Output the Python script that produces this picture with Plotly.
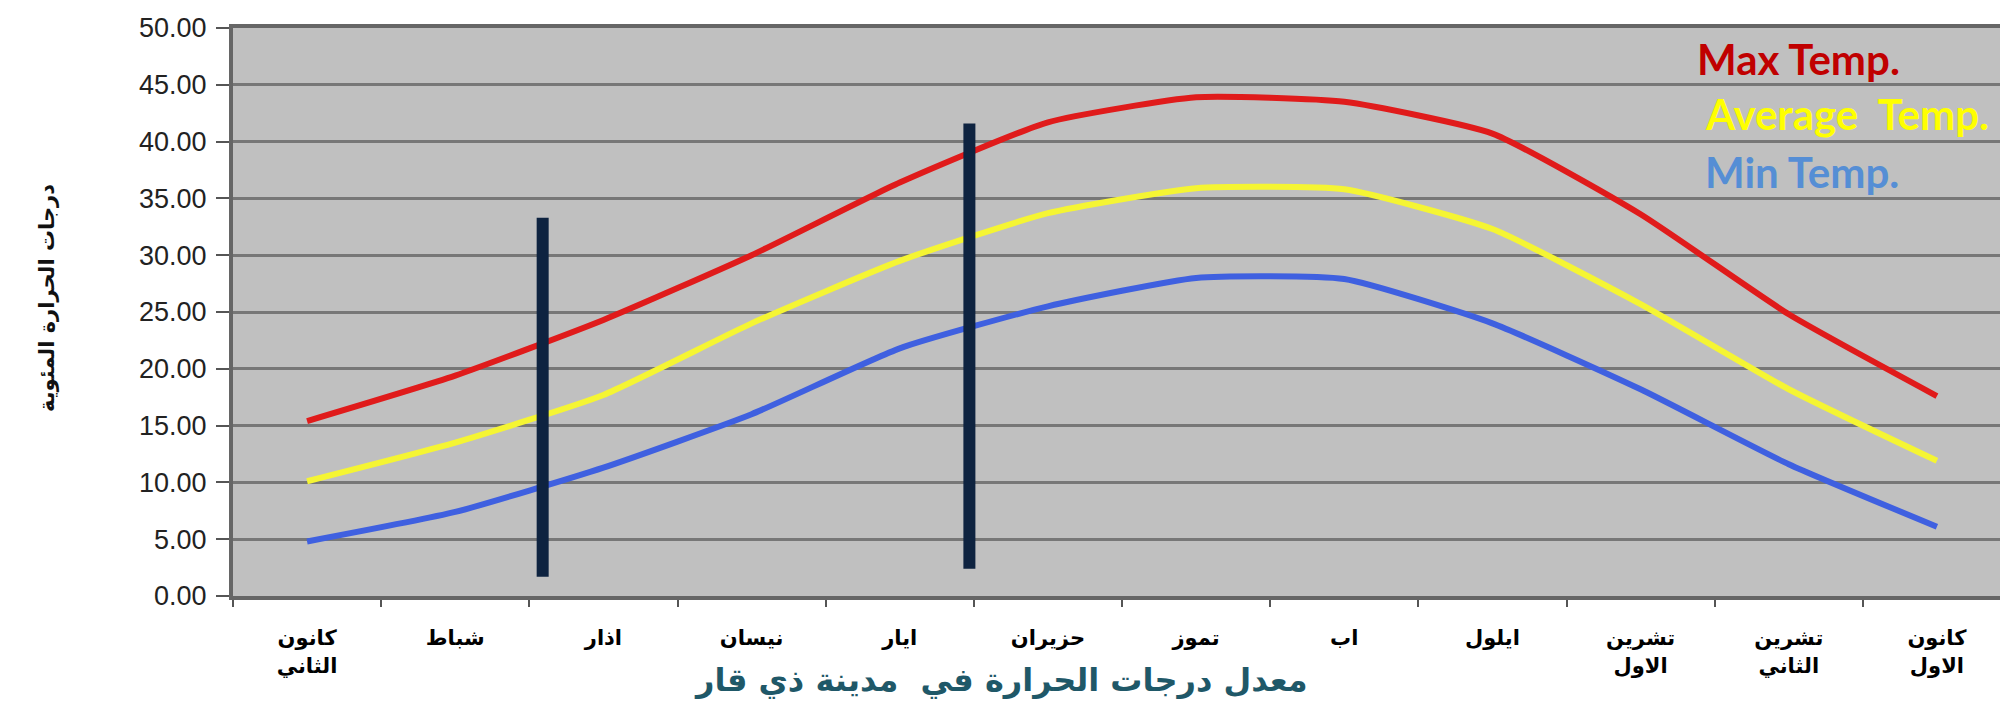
import plotly.graph_objects as go

months = ["كانون<br>الثاني", "شباط", "اذار", "نيسان", "ايار", "حزيران",
          "تموز", "اب", "ايلول", "تشرين<br>الاول", "تشرين<br>الثاني", "كانون<br>الاول"]
max_temp = [15.4, 19.4, 24.3, 30.0, 36.4, 41.7, 43.9, 43.5, 40.7, 33.6, 24.8, 17.6]
avg_temp = [10.1, 13.5, 17.7, 24.0, 29.5, 33.7, 35.9, 35.8, 32.3, 25.7, 18.2, 11.9]
min_temp = [4.8, 7.4, 11.3, 16.0, 21.8, 25.5, 28.0, 27.9, 24.0, 18.2, 11.6, 6.1]

series_names = ["Max Temp.", "Average  Temp.", "Min Temp."]
series_colors = ["#e01b1b", "#f5f533", "#3f60e0"]
label_colors = ["#c00000", "#ffff00", "#558ed5"]

y_ticks = [0, 5, 10, 15, 20, 25, 30, 35, 40, 45, 50]

# vertical dark separator bars (category-axis positions and value extents)
bar_x = [1.59, 4.47]
bar_y0 = [1.7, 2.4]
bar_y1 = [33.3, 41.6]

title_text = "معدل درجات الحرارة في  مدينة ذي قار"
y_title_text = "درجات الحرارة المئوية"

fig = go.Figure()
for vals, name, col in zip([max_temp, avg_temp, min_temp], series_names, series_colors):
    fig.add_trace(go.Scatter(x=months, y=vals, mode="lines", name=name,
                             line=dict(color=col, width=6, shape="spline", smoothing=0.5),
                             showlegend=False))

for bx, b0, b1 in zip(bar_x, bar_y0, bar_y1):
    fig.add_shape(type="line", xref="x", yref="y", x0=bx, x1=bx, y0=b0, y1=b1,
                  line=dict(color="#0e2340", width=12))

legend_y = [0.946, 0.848, 0.747]
legend_x = [0.8225, 0.8265, 0.8265]
for name, col, lx, ly in zip(series_names, label_colors, legend_x, legend_y):
    fig.add_annotation(text="<b>%s</b>" % name, xref="paper", yref="paper", x=lx, y=ly,
                       xanchor="left", yanchor="middle", showarrow=False,
                       font=dict(family="Lato", size=42, color=col))

fig.add_annotation(text="<b>%s</b>" % title_text, xref="paper", yref="paper",
                   x=(993 - 225) / 1778, y=-0.148, xanchor="center", yanchor="middle",
                   showarrow=False, font=dict(family="DejaVu Sans", size=32, color="#1f5868"))

fig.add_annotation(text="<b>%s</b>" % y_title_text, xref="paper", yref="paper",
                   x=-0.105, y=0.525, xanchor="center", yanchor="middle", textangle=-90,
                   showarrow=False, font=dict(family="DejaVu Sans", size=21, color="#111111"))

fig.update_layout(
    width=2008, height=702,
    margin=dict(l=225, r=5, t=20, b=114),
    paper_bgcolor="white", plot_bgcolor="#c0c0c0",
    xaxis=dict(type="category", range=[-0.5, 11.5], tickson="boundaries", automargin=False,
               ticks="outside", ticklen=7, tickcolor="#555555", tickwidth=2,
               showgrid=False, showline=True, linecolor="#666666", linewidth=4, mirror=True,
               ticklabelstandoff=20,
               tickfont=dict(family="DejaVu Sans", size=21, color="#000000", weight="bold")),
    yaxis=dict(range=[0, 50], tickvals=y_ticks, ticktext=["%.2f" % v for v in y_ticks],
               automargin=False,
               ticks="outside", ticklen=13, tickcolor="#555555", tickwidth=2,
               showgrid=True, gridcolor="#777777", gridwidth=3,
               showline=True, linecolor="#666666", linewidth=4, mirror=True,
               zeroline=False, ticklabelstandoff=4,
               tickfont=dict(family="Liberation Sans", size=27, color="#222222")),
)

fig.write_html("out.html")
